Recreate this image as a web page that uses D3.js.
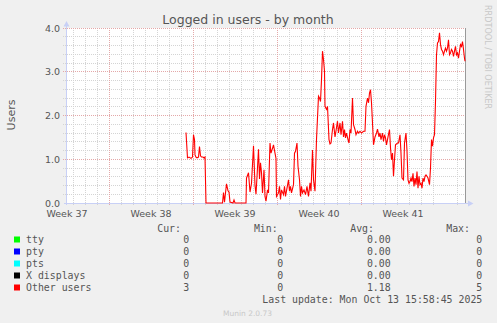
<!DOCTYPE html>
<html>
<head>
<meta charset="utf-8">
<script src="https://cdn.jsdelivr.net/npm/d3@7"></script>
<style>
  body { margin: 0; background: #f0f0f0; }
  svg { display: block; }
  text { font-family: "DejaVu Sans", sans-serif; fill: #555; }
  .mono { font-family: "DejaVu Sans Mono", monospace; font-size: 9.9px; }
</style>
</head>
<body>
<div id="chart"></div>
<script>
// month window shown by munin (UTC)
const graphStart = Date.UTC(2025, 8, 10, 10);
const graphEnd = Date.UTC(2025, 9, 13, 18);

const weekStarts = ["2025-09-07", "2025-09-14", "2025-09-21", "2025-09-28", "2025-10-05"];
const weekLabels = ["Week 37", "Week 38", "Week 39", "Week 40", "Week 41"];
const yTickValues = [0, 1, 2, 3, 4];

// [hours after graphStart, users]
const otherUsers = [
  [240,1.61],[243,1.03],[246,1.05],[250,1.02],[253,1.05],[255,1.56],[257,1.45],[258,1.10],[260,1.05],[262,1.03],
  [265,1.05],[267,1.29],[269,1.08],[271,1.05],[274,1.05],[276,1.03],[278,1.05],[280,0],[313,0],[315,0.24],
  [317,0.02],[321,0.44],[324,0.28],[326,0.25],[328,0.02],[334,0],[336,0.07],[338,0],[360,0],[361,0.57],
  [365,0.69],[368,0.25],[371,0.45],[375,1.31],[378,0.4],[380,0.2],[382,0.6],[385,1.23],[387,0.55],[389,0.92],
  [391,0.69],[393,0.23],[396,0.76],[398,0.15],[400,0.04],[403,0.3],[405,0.23],[408,1.37],[410,1.14],[413,1.25],
  [415,1.33],[418,1.14],[420,1.02],[421,0.15],[425,0.23],[427,0.38],[429,0.08],[431,0.3],[435,0.19],[437,0.38],
  [439,0.15],[442,0.34],[445,0.53],[447,0.27],[449,0.38],[451,0.23],[455,0.42],[457,1.14],[459,1.18],[462,1.37],
  [464,0.84],[467,0.53],[469,0.15],[471,0.38],[473,0.23],[476,0.3],[479,0.19],[482,0.38],[485,0.15],[488,0.46],
  [490,0.27],[493,1.21],[495,0.53],[498,0.27],[501,1.45],[505,2.44],[507,2.40],[509,2.32],[511,2.82],[513,3.47],
  [515,3.28],[517,3.01],[518,2.21],[521,2.14],[523,2.21],[526,1.45],[528,1.35],[530,1.37],[533,1.68],[535,1.83],
  [538,1.51],[540,1.65],[543,1.87],[545,1.6],[548,1.83],[550,1.56],[553,1.87],[555,1.51],[557,1.68],[559,1.49],
  [561,1.6],[564,1.45],[566,1.37],[568,1.68],[570,1.6],[573,2.40],[575,1.79],[578,1.68],[580,1.56],[583,1.64],
  [585,1.6],[588,1.64],[591,1.6],[595,1.64],[598,1.64],[600,2.21],[603,2.40],[605,2.29],[607,2.51],[609,2.59],
  [611,2.29],[613,1.83],[615,1.33],[618,1.51],[621,1.6],[623,1.69],[626,1.51],[628,1.6],[630,1.45],[633,1.6],
  [635,1.41],[637,1.56],[639,1.49],[641,1.33],[644,1.51],[647,1.68],[649,1.26],[651,0.99],[653,1.14],[655,0.61],
  [657,0.99],[659,1.33],[663,1.37],[665,1.37],[668,1.56],[670,1.14],[672,0.57],[675,0.53],[677,1.37],[680,1.6],
  [682,1.19],[684,0.53],[686,0.45],[688,0.49],[690,0.57],[692,0.49],[694,0.68],[696,0.38],[698,0.57],[700,0.42],
  [702,0.72],[704,0.34],[706,0.61],[708,0.42],[710,0.45],[712,0.34],[714,0.57],[716,0.49],[718,0.61],[720,0.64],
  [722,0.61],[724,0.57],[727,0.42],[729,0.8],[731,1.45],[733,1.3],[735,1.49],[737,1.56],[739,2.32],[741,3.39],
  [743,3.66],[745,3.69],[747,3.89],[749,3.62],[751,3.51],[753,3.47],[755,3.39],[757,3.47],[759,3.54],[761,3.47],
  [763,3.54],[765,3.73],[767,3.39],[769,3.43],[771,3.51],[773,3.47],[775,3.35],[777,3.47],[779,3.58],[781,3.39],
  [783,3.43],[785,3.31],[787,3.47],[789,3.62],[791,3.58],[793,3.69],[795,3.51],[797,3.31],[798,3.24]
];

const seriesNames = ["tty", "pty", "pts", "X displays", "Other users"];
const seriesColors = ["#00ff00", "#0000ff", "#00ffff", "#000000", "#ff0000"];
const curValues = ["0", "0", "0", "0", "3"];
const minValues = ["0", "0", "0", "0", "0"];
const avgValues = ["0.00", "0.00", "0.00", "0.00", "1.18"];
const maxValues = ["0", "0", "0", "0", "5"];

const W = 497, H = 323;
const plot = { left: 66, right: 466, top: 28, bottom: 203 };

const svg = d3.select("#chart").append("svg")
    .attr("width", W)
    .attr("height", H);

svg.append("rect").attr("width", W).attr("height", H).attr("fill", "#f0f0f0");
svg.append("rect")
    .attr("x", plot.left).attr("y", plot.top)
    .attr("width", plot.right - plot.left).attr("height", plot.bottom - plot.top)
    .attr("fill", "#fff");

const x = d3.scaleUtc().domain([graphStart, graphEnd]).range([plot.left, plot.right]);
const y = d3.scaleLinear().domain([0, 4]).range([plot.bottom, plot.top]);
const crisp = v => Math.floor(v) + 0.5;

// grid
const grid = svg.append("g").attr("stroke-dasharray", "1,1").attr("fill", "none");
const days = d3.utcDay.range(graphStart, graphEnd).filter(d => d.getUTCDay() !== 0);
grid.selectAll(".vminor").data(days).enter().append("line")
    .attr("x1", d => crisp(x(d))).attr("x2", d => crisp(x(d)))
    .attr("y1", plot.top).attr("y2", plot.bottom + 3)
    .attr("stroke", "#d4d4d4");

const minorY = y.ticks(20).filter(v => Math.abs(v - Math.round(v)) > 1e-6);
grid.selectAll(".hminor").data(minorY).enter().append("line")
    .attr("x1", plot.left - 3).attr("x2", plot.right)
    .attr("y1", d => crisp(y(d))).attr("y2", d => crisp(y(d)))
    .attr("stroke", "#d4d4d4");

const sundays = weekStarts.map(s => new Date(s + "T00:00:00Z")).filter(d => d >= graphStart);
grid.selectAll(".vmajor").data(sundays).enter().append("line")
    .attr("x1", d => crisp(x(d))).attr("x2", d => crisp(x(d)))
    .attr("y1", plot.top).attr("y2", plot.bottom + 3)
    .attr("stroke", "#e4a8a8");

grid.selectAll(".hmajor").data(yTickValues.filter(v => v > 0)).enter().append("line")
    .attr("x1", plot.left - 3).attr("x2", plot.right)
    .attr("y1", d => crisp(y(d))).attr("y2", d => crisp(y(d)))
    .attr("stroke", "#e4a8a8");

// axes
const axisColor = "#c8d0f6";
svg.append("line")
    .attr("x1", plot.left - 2).attr("x2", plot.right + 4)
    .attr("y1", crisp(y(0))).attr("y2", crisp(y(0)))
    .attr("stroke", axisColor);
svg.append("line")
    .attr("x1", crisp(plot.left)).attr("x2", crisp(plot.left))
    .attr("y1", plot.bottom + 2).attr("y2", plot.top - 4)
    .attr("stroke", axisColor);
svg.append("path")
    .attr("d", `M${plot.left - 2.5},${plot.top - 1.5} L${plot.left + 3.5},${plot.top - 1.5} L${plot.left + 0.5},${plot.top - 7} Z`)
    .attr("fill", axisColor);
svg.append("path")
    .attr("d", `M${plot.right + 2},${plot.bottom - 2.5} L${plot.right + 2},${plot.bottom + 3.5} L${plot.right + 7.5},${plot.bottom + 0.5} Z`)
    .attr("fill", axisColor);

// "now" rule at the right edge
svg.append("line")
    .attr("x1", plot.right - 0.5).attr("x2", plot.right - 0.5)
    .attr("y1", plot.top).attr("y2", plot.bottom)
    .attr("stroke", "#999");

// y tick labels
svg.selectAll(".ylab").data(yTickValues).enter().append("text")
    .attr("x", plot.left - 6)
    .attr("y", d => y(d) + 3.5)
    .attr("text-anchor", "end")
    .style("font-size", "9.5px")
    .text(d => d3.format(".1f")(d));

// week labels, centred in each week
svg.selectAll(".xlab").data(weekStarts).enter().append("text")
    .attr("x", d => x(d3.utcHour.offset(new Date(d + "T00:00:00Z"), 84)))
    .attr("y", 216.5)
    .attr("text-anchor", "middle")
    .style("font-size", "9.5px")
    .text((d, i) => weekLabels[i]);

// data line
const line = d3.line()
    .x(d => x(graphStart + d[0] * 3600e3))
    .y(d => y(d[1]));

svg.append("path")
    .datum(otherUsers)
    .attr("d", line)
    .attr("fill", "none")
    .attr("stroke", "#ff0000")
    .attr("stroke-width", 1.1);

// titles
svg.append("text")
    .attr("x", 248).attr("y", 24)
    .attr("text-anchor", "middle")
    .style("font-size", "12.5px")
    .text("Logged in users - by month");

svg.append("text")
    .attr("transform", "translate(15,115) rotate(-90)")
    .attr("text-anchor", "middle")
    .style("font-size", "11px")
    .text("Users");

svg.append("text")
    .attr("transform", "translate(484.5,5) rotate(90)")
    .style("font-size", "8.1px")
    .style("fill", "#c8c8c8")
    .text("RRDTOOL / TOBI OETIKER");

// legend
const cols = [
  { head: "Cur:", headX: 181, valX: 189.3, vals: curValues },
  { head: "Min:", headX: 277.7, valX: 283.3, vals: minValues },
  { head: "Avg:", headX: 374, valX: 390.7, vals: avgValues },
  { head: "Max:", headX: 470, valX: 482.3, vals: maxValues }
];

const legend = svg.append("g");
cols.forEach(c => {
  legend.append("text").attr("class", "mono")
      .attr("x", c.headX).attr("y", 231.5)
      .attr("text-anchor", "end")
      .text(c.head);
});

seriesNames.forEach((name, i) => {
  const by = 243 + i * 12;
  legend.append("rect")
      .attr("x", 14).attr("y", by - 6.5)
      .attr("width", 6).attr("height", 6)
      .attr("fill", seriesColors[i]);
  legend.append("text").attr("class", "mono")
      .attr("x", 26).attr("y", by)
      .text(name);
  cols.forEach(c => {
    legend.append("text").attr("class", "mono")
        .attr("x", c.valX).attr("y", by)
        .attr("text-anchor", "end")
        .text(c.vals[i]);
  });
});

legend.append("text").attr("class", "mono")
    .attr("x", 482.3).attr("y", 302.5)
    .attr("text-anchor", "end")
    .text("Last update: Mon Oct 13 15:58:45 2025");

svg.append("text")
    .attr("x", 247.5).attr("y", 316)
    .attr("text-anchor", "middle")
    .style("font-size", "7.5px")
    .style("fill", "#c8c8c8")
    .text("Munin 2.0.73");
</script>
</body>
</html>
